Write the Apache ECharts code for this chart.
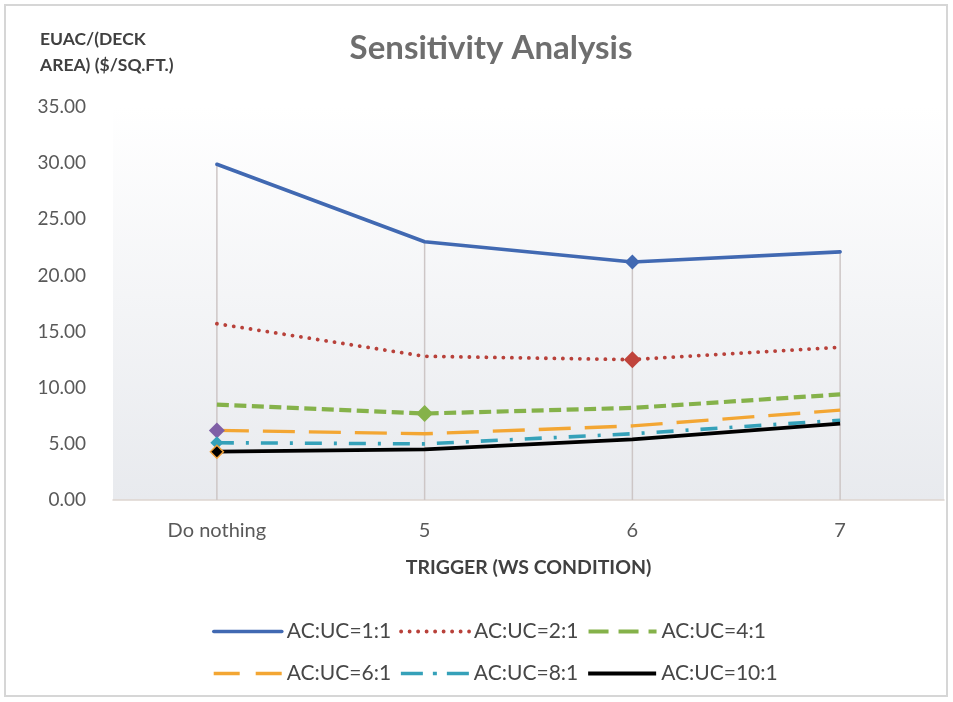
<!DOCTYPE html>
<html>
<head>
<meta charset="utf-8">
<script src="https://cdn.jsdelivr.net/npm/echarts@6/dist/echarts.min.js"></script>
<style>
  html, body { margin: 0; padding: 0; background: #ffffff; }
  #chart { width: 953px; height: 702px; }
</style>
</head>
<body>
<div id="chart"></div>
<script>
// Trigger conditions on the category axis
const categories = ['Do nothing', '5', '6', '7'];

// EUAC per deck area ($/sq.ft.) for each AC:UC cost ratio
const ratio1 = [29.9, 23.0, 21.2, 22.1];
const ratio2 = [15.7, 12.8, 12.5, 13.6];
const ratio4 = [8.5, 7.7, 8.2, 9.4];
const ratio6 = [6.2, 5.9, 6.6, 8.0];
const ratio8 = [5.1, 5.0, 5.9, 7.1];
const ratio10 = [4.3, 4.5, 5.4, 6.8];

const seriesNames = ['AC:UC=1:1', 'AC:UC=2:1', 'AC:UC=4:1', 'AC:UC=6:1', 'AC:UC=8:1', 'AC:UC=10:1'];
const seriesValues = [ratio1, ratio2, ratio4, ratio6, ratio8, ratio10];
// index of the highlighted (diamond) point in each series
const markerIndex = [2, 2, 1, 0, 0, 0];

const yTicks = [0, 5, 10, 15, 20, 25, 30, 35];

const FONT = 'Lato, "Open Sans", sans-serif';

const styles = [
  { color: '#4169b2', width: 3.6, type: 'solid', cap: 'round', legendType: 'solid',
    marker: { color: '#4169b2', size: 15 } },
  { color: '#b8413a', width: 3.8, type: [0.1, 8.4], cap: 'round', legendType: [0.1, 8.4],
    marker: { color: '#c0443c', size: 17 } },
  { color: '#85b24a', width: 4.2, type: [12, 5.5], cap: 'butt', legendType: [20, 10],
    marker: { color: '#85b24a', size: 17 } },
  { color: '#f3a633', width: 3.4, type: [32, 14], cap: 'butt', legendType: [26, 16],
    marker: { color: '#7f5fa6', size: 16 } },
  { color: '#35a1b9', width: 3.6, type: [17, 12, 3, 12], cap: 'butt', legendType: [22, 10, 4, 10],
    marker: { color: '#35a1b9', size: 13 } },
  { color: '#000000', width: 3.8, type: 'solid', cap: 'butt', legendType: 'solid',
    marker: { color: '#000000', size: 13, borderColor: '#f0a03a', borderWidth: 1.5 } }
];

// vertical drop lines reach from the axis to the highest series at each category
const dropHeights = categories.map((_, i) => Math.max(...seriesValues.map(v => v[i])));

const lineSeries = seriesNames.map((name, s) => {
  const st = styles[s];
  return {
    name: name,
    type: 'line',
    symbol: 'none',
    z: 3 + s,
    lineStyle: { color: st.color, width: st.width, type: st.type, cap: st.cap, join: 'round' },
    itemStyle: { color: st.color },
    emphasis: { disabled: true },
    data: seriesValues[s].map((v, i) => i === markerIndex[s]
      ? {
          value: v,
          symbol: 'diamond',
          symbolSize: st.marker.size,
          itemStyle: {
            color: st.marker.color,
            borderColor: st.marker.borderColor || st.marker.color,
            borderWidth: st.marker.borderWidth || 0
          }
        }
      : v)
  };
});

const legendItems = seriesNames.map((name, s) => ({
  name: name,
  itemStyle: { opacity: 0 },
  lineStyle: { type: styles[s].legendType, width: styles[s].width, cap: styles[s].cap }
}));

const chart = echarts.init(document.getElementById('chart'), null, { renderer: 'canvas' });

const legendBase = {
  left: 212,
  padding: 0,
  orient: 'horizontal',
  itemWidth: 68,
  itemHeight: 14,
  itemGap: 8,
  itemStyle: { opacity: 0 },
  textStyle: { fontFamily: FONT, fontSize: 21, color: '#474747' }
};

chart.setOption({
  backgroundColor: '#ffffff',
  animation: false,
  title: {
    text: 'Sensitivity Analysis',
    left: 486,
    top: 27,
    textAlign: 'center',
    textStyle: { fontFamily: FONT, fontSize: 33, fontWeight: 'bold', color: '#6e6e6e' }
  },
  graphic: [
    {
      type: 'rect',
      silent: true,
      z: -10,
      shape: { x: 5, y: 5, width: 942, height: 691 },
      style: { fill: 'none', stroke: '#d6d6d6', lineWidth: 2 }
    },
    {
      type: 'text',
      left: 40,
      top: 26,
      style: {
        text: 'EUAC/(DECK\nAREA) ($/SQ.FT.)',
        font: 'bold 17.5px ' + FONT,
        fill: '#404040',
        lineHeight: 26
      }
    }
  ],
  legend: [
    Object.assign({}, legendBase, { data: legendItems.slice(0, 3), top: 621 }),
    Object.assign({}, legendBase, { data: legendItems.slice(3), top: 663 })
  ],
  grid: {
    left: 113,
    right: 9,
    top: 107,
    bottom: 202,
    show: true,
    borderWidth: 0,
    backgroundColor: new echarts.graphic.LinearGradient(0, 0, 0, 1, [
      { offset: 0, color: '#ffffff' },
      { offset: 1, color: '#e8eaee' }
    ])
  },
  xAxis: {
    type: 'category',
    data: categories,
    boundaryGap: true,
    name: 'TRIGGER (WS CONDITION)',
    nameLocation: 'middle',
    nameGap: 58,
    nameTextStyle: { fontFamily: FONT, fontSize: 19.5, fontWeight: 'bold', color: '#404040' },
    axisLine: { show: true, lineStyle: { color: '#ddd5cf', width: 1.5 } },
    axisTick: { show: false },
    splitLine: { show: false },
    axisLabel: { fontFamily: FONT, fontSize: 20, color: '#595959', margin: 21 }
  },
  yAxis: {
    type: 'value',
    min: yTicks[0],
    max: yTicks[yTicks.length - 1],
    interval: yTicks[1] - yTicks[0],
    axisLine: { show: false },
    axisTick: { show: false },
    splitLine: { show: false },
    axisLabel: {
      fontFamily: FONT, fontSize: 19, color: '#595959', margin: 27,
      formatter: v => v.toFixed(2)
    }
  },
  series: [
    {
      name: 'drop',
      type: 'bar',
      barWidth: 1.5,
      silent: true,
      z: 1,
      itemStyle: { color: '#cdc6c6' },
      emphasis: { disabled: true },
      data: dropHeights
    },
    ...lineSeries
  ]
});
</script>
</body>
</html>
